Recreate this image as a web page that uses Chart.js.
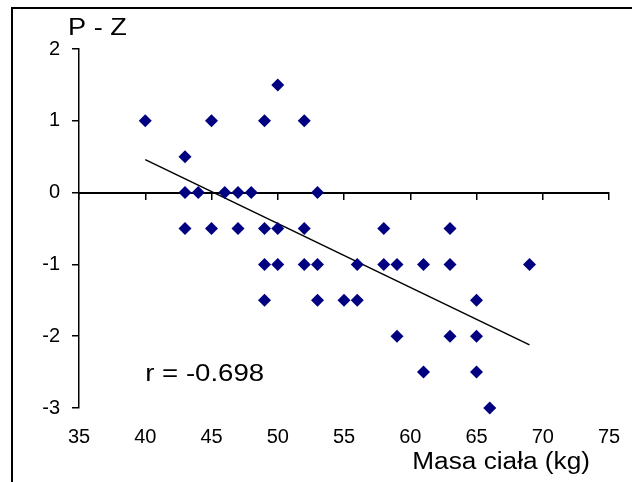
<!DOCTYPE html>
<html>
<head>
<meta charset="utf-8">
<script src="https://cdn.jsdelivr.net/npm/chart.js@4/dist/chart.umd.min.js"></script>
<style>
    html, body { margin: 0; padding: 0; background: #fff; overflow: hidden; }
    #wrap { position: relative; width: 632px; height: 482px; }
    #frame {
        position: absolute; left: 11px; top: 7px; width: 700px; height: 600px;
        border-top: 2px solid #000; border-left: 2px solid #000;
        pointer-events: none;
    }
    canvas { position: absolute; left: 0; top: 0; }
</style>
</head>
<body>
<div id="wrap">
    <canvas id="chart" width="632" height="482"></canvas>
    <div id="frame"></div>
</div>
<script>
// Masa ciała (kg) vs P - Z
const masa = [40, 43, 43, 43, 44, 45, 45, 46, 47, 47, 48, 49, 49, 49, 49, 50, 50, 50,
              52, 52, 52, 53, 53, 53, 55, 56, 56, 58, 58, 59, 59, 61, 61, 63, 63, 63,
              65, 65, 65, 66, 69];
const pz = [1, 0.5, 0, -0.5, 0, 1, -0.5, 0, 0, -0.5, 0, 1, -0.5, -1, -1.5, 1.5, -0.5, -1,
            1, -0.5, -1, 0, -1, -1.5, -1.5, -1, -1.5, -0.5, -1, -1, -2, -1, -2.5, -0.5, -1, -2,
            -1.5, -2, -2.5, -3, -1];

// trend line ends
const trendX = [40, 69];
const trendY = [0.46, -2.12];

const xMin = 35, xMax = 75, xStep = 5;
const yMin = -3, yMax = 2, yStep = 1;

const rText = 'r = -0.698';
const yTitle = 'P - Z';
const xTitle = 'Masa ciała (kg)';

const points = masa.map((m, i) => ({ x: m, y: pz[i] }));
const trend = trendX.map((t, i) => ({ x: t, y: trendY[i] }));

// Wide text, like the original
function stretchedText(ctx, text, x, y, align, sx) {
    ctx.save();
    ctx.translate(x, y);
    ctx.scale(sx, 1);
    ctx.textAlign = align;
    ctx.textBaseline = 'alphabetic';
    ctx.fillText(text, 0, 0);
    ctx.restore();
}

const labelsPlugin = {
    id: 'labels',
    afterDraw(chart) {
        const ctx = chart.ctx;
        const xs = chart.scales.x;
        const ys = chart.scales.y;
        ctx.save();
        ctx.fillStyle = '#000';
        ctx.font = '23px "Liberation Sans", Arial, sans-serif';
        stretchedText(ctx, yTitle, 68, 35, 'left', 1.18);
        stretchedText(ctx, xTitle, 590, 469, 'right', 1.14);
        stretchedText(ctx, rText, xs.getPixelForValue(40), ys.getPixelForValue(-2.62), 'left', 1.2);
        ctx.restore();
    }
};

const ctx = document.getElementById('chart').getContext('2d');
new Chart(ctx, {
    type: 'scatter',
    data: {
        datasets: [{
            data: points,
            pointStyle: 'rectRot',
            pointRadius: 6.5,
            backgroundColor: '#000080',
            borderColor: '#000080',
            borderWidth: 0,
            clip: false,
            order: 1
        }, {
            type: 'line',
            data: trend,
            borderColor: '#000',
            borderWidth: 1.5,
            pointRadius: 0,
            fill: false,
            order: 2
        }]
    },
    options: {
        responsive: false,
        animation: false,
        layout: { padding: { left: 0, top: 49, right: 23, bottom: 0 } },
        plugins: {
            legend: { display: false },
            tooltip: { enabled: false }
        },
        scales: {
            x: {
                type: 'linear',
                position: 'bottom',
                min: xMin, max: xMax,
                ticks: {
                    stepSize: xStep,
                    padding: 0,
                    color: '#000',
                    font: { family: '"Liberation Sans", Arial, sans-serif', size: 20 }
                },
                // invisible tick marks, only used to push labels down
                grid: { display: false, drawTicks: true, tickLength: 17 },
                border: { display: false },
                afterFit(scale) { scale.height = 74; }
            },
            xz: {
                type: 'linear',
                position: { y: 0 },
                min: xMin, max: xMax,
                ticks: { stepSize: xStep, display: false },
                grid: {
                    display: true,
                    drawOnChartArea: false,
                    drawTicks: true,
                    tickLength: 6,
                    color: '#000',
                    lineWidth: 1.5
                },
                border: { display: true, color: '#000', width: 2 }
            },
            y: {
                type: 'linear',
                position: 'left',
                min: yMin, max: yMax,
                ticks: {
                    stepSize: yStep,
                    padding: 12,
                    color: '#000',
                    font: { family: '"Liberation Sans", Arial, sans-serif', size: 20 }
                },
                grid: {
                    display: true,
                    drawOnChartArea: false,
                    drawTicks: true,
                    tickLength: 7,
                    color: '#000',
                    lineWidth: 1.5
                },
                border: { display: true, color: '#000', width: 1.5 },
                afterFit(scale) { scale.width = 79; }
            }
        }
    },
    plugins: [labelsPlugin]
});
</script>
</body>
</html>
